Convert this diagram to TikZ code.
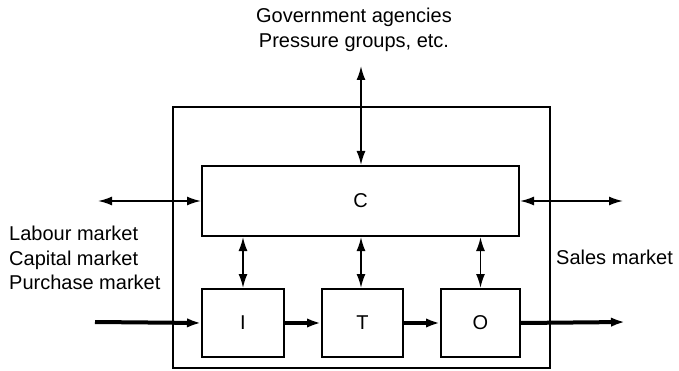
\documentclass[tikz,border=0pt]{standalone}
\usepackage{fontspec}
\setmainfont{Liberation Sans}
\usetikzlibrary{arrows.meta}
\begin{document}
\begin{tikzpicture}[x=1pt,y=-1pt,
  lbl/.style={font=\fontsize{20}{24.5}\selectfont, inner sep=0pt},
  block/.style={draw, line width=2pt, inner sep=0pt, font=\fontsize{20}{24}\selectfont},
  twoway/.style={{Latex[length=14pt,width=9pt]}-{Latex[length=14pt,width=9pt]}, line width=1.8pt},
  flow/.style={-{Latex[length=14pt,width=9.5pt]}, line width=4pt}]
\useasboundingbox (0,0) rectangle (679,371);

% enterprise boundary
\node[draw, line width=1.8pt, minimum width=377pt, minimum height=261pt] (firm) at (361.5,237.5) {};

% control and the three operating blocks
\node[block, minimum width=317pt, minimum height=70pt] (C) at (360.5,201) {C};
\node[block, minimum width=82pt, minimum height=68pt] (I) at (243,323) {I};
\node[block, minimum width=81pt, minimum height=68pt] (T) at (362.5,323) {T};
\node[block, minimum width=79pt, minimum height=68pt] (O) at (480.5,323) {O};

% environment labels
\node[lbl, align=center] (gov) at (354,30) {Government agencies\\Pressure groups, etc.};
\node[lbl, align=left, anchor=west] (markets) at (9,258) {Labour market\\Capital market\\Purchase market};
\node[lbl, anchor=west] (sales) at (556,257) {Sales market};

% free ends of the outside connectors
\coordinate (topend) at (361,66);
\coordinate (leftend) at (98,201);
\coordinate (rightend) at (623,201);
\coordinate (inend) at (95,322);
\coordinate (outend) at (625,322);

% information exchange
\draw[twoway] (topend) -- (topend |- C.north);
\draw[twoway] (leftend) -- (C.west);
\draw[twoway] (C.east) -- (rightend);
\draw[twoway] (I.north |- C.south) -- (I.north);
\draw[twoway] (T.north -| topend) coordinate (tn) (tn |- C.south) -- (tn);
\draw[twoway] (O.north |- C.south) -- (O.north);

% material flow
\draw[flow] (inend) -- (I.west);
\draw[flow] (I.east) -- (T.west);
\draw[flow] (T.east) -- (O.west);
\draw[flow] (O.east) -- (outend);
\end{tikzpicture}
\end{document}
